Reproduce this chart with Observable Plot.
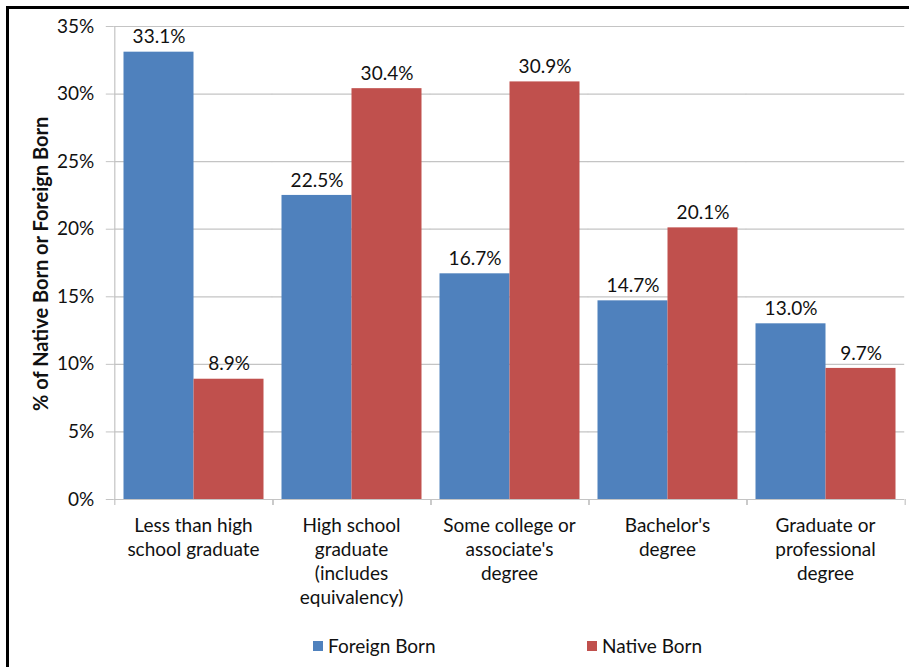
<!DOCTYPE html>
<html>
<head>
<meta charset="utf-8">
<script src="https://cdn.jsdelivr.net/npm/d3@7"></script>
<script src="https://cdn.jsdelivr.net/npm/@observablehq/plot@0.6"></script>
<style>
  html, body { margin: 0; padding: 0; background: #fff; }
  body { width: 909px; height: 667px; position: relative; overflow: hidden; font-family: Lato, "Open Sans", sans-serif; }
  #border { position: absolute; left: 6px; top: 6px; width: 903px; height: 661px; border-left: 3px solid #000; border-top: 3px solid #000; box-sizing: border-box; }
  #chart { position: absolute; left: 0; top: 0; }
  #legend { position: absolute; top: 634px; left: 0; width: 909px; height: 26px; font-size: 19px; color: #111; }
  .item { position: absolute; top: 0; display: flex; align-items: center; gap: 5px; }
  .sw { width: 10px; height: 10px; display: inline-block; }
</style>
</head>
<body>
<div id="border"></div>
<div id="chart"></div>
<div id="legend"></div>
<script>
// ---- data ----
const categories = [
  "Less than high\nschool graduate",
  "High school\ngraduate\n(includes\nequivalency)",
  "Some college or\nassociate's\ndegree",
  "Bachelor's\ndegree",
  "Graduate or\nprofessional\ndegree"
];
const series = ["Foreign Born", "Native Born"];
const foreignBorn = [33.1, 22.5, 16.7, 14.7, 13.0];
const nativeBorn = [8.9, 30.4, 30.9, 20.1, 9.7];
const yTicks = [0, 5, 10, 15, 20, 25, 30, 35];
const colors = ["#4F81BD", "#C0504D"];
const yLabel = "% of Native Born or Foreign Born";

// ---- table built from arrays ----
const rows = [];
categories.forEach((c, i) => {
  rows.push({category: c, series: series[0], value: foreignBorn[i]});
  rows.push({category: c, series: series[1], value: nativeBorn[i]});
});
const leftEdges = categories.map((c, i) => ({category: c, top: i === 0 ? yTicks[yTicks.length - 1] : 0}));

// ---- layout constants ----
const gapHalf = 9.2;
const halfBar = 35;
const gridColor = "#c4c4c4";
const tickLen = -0.45;
const fs = 19;

const chart = Plot.plot({
  width: 909,
  height: 630,
  marginTop: 26,
  marginBottom: 131,
  marginLeft: 113.5,
  marginRight: 4,
  style: {fontFamily: "Lato, 'Open Sans', sans-serif", fontSize: fs + "px", color: "#111", background: "transparent"},
  fx: {domain: categories, paddingInner: 0.116, paddingOuter: 0.058, label: null, axis: null},
  x: {domain: series, axis: null, padding: 0},
  y: {domain: [0, 35], axis: null},
  color: {domain: series, range: colors},
  marks: [
    Plot.ruleY(yTicks, {stroke: gridColor, strokeWidth: 1.2, insetLeft: -gapHalf, insetRight: -gapHalf}),
    Plot.barY(rows, {fx: "category", x: "series", y: "value", fill: "series"}),
    Plot.text(rows, {fx: "category", x: "series", y: "value", text: d => d.value.toFixed(1) + "%", dy: -15, fontSize: fs, fill: "#111"}),
    Plot.ruleX(leftEdges, {fx: "category", x: () => series[0], y1: "top", y2: tickLen, dx: -(halfBar + gapHalf), stroke: gridColor, strokeWidth: 1.2}),
    Plot.ruleX(categories, {fx: d => d, x: () => series[1], y1: 0, y2: tickLen, dx: halfBar + gapHalf, stroke: gridColor, strokeWidth: 1.2}),
    Plot.axisY({ticks: yTicks, tickFormat: d => d + "%", tickSize: 8, tickPadding: 12, dx: -gapHalf, label: null, stroke: gridColor, fill: "#111", fontSize: fs}),
    Plot.axisFx({anchor: "bottom", tickSize: 0, tickPadding: 15, lineHeight: 1.27, fontSize: fs, label: null, fill: "#111"}),
    Plot.text([{category: categories[0], label: yLabel}], {fx: "category", text: "label", frameAnchor: "left", rotate: -90, dx: -(gapHalf + 72.5), dy: 148, fontWeight: "bold", fontSize: 20, fill: "#111"})
  ]
});
document.getElementById("chart").appendChild(chart);

// ---- legend ----
const legend = document.getElementById("legend");
const legendLeft = [313, 587];
series.forEach((s, i) => {
  const item = document.createElement("div");
  item.className = "item";
  item.style.left = legendLeft[i] + "px";
  const sw = document.createElement("span");
  sw.className = "sw";
  sw.style.background = colors[i];
  const t = document.createElement("span");
  t.textContent = s;
  item.appendChild(sw);
  item.appendChild(t);
  legend.appendChild(item);
});
</script>
</body>
</html>
